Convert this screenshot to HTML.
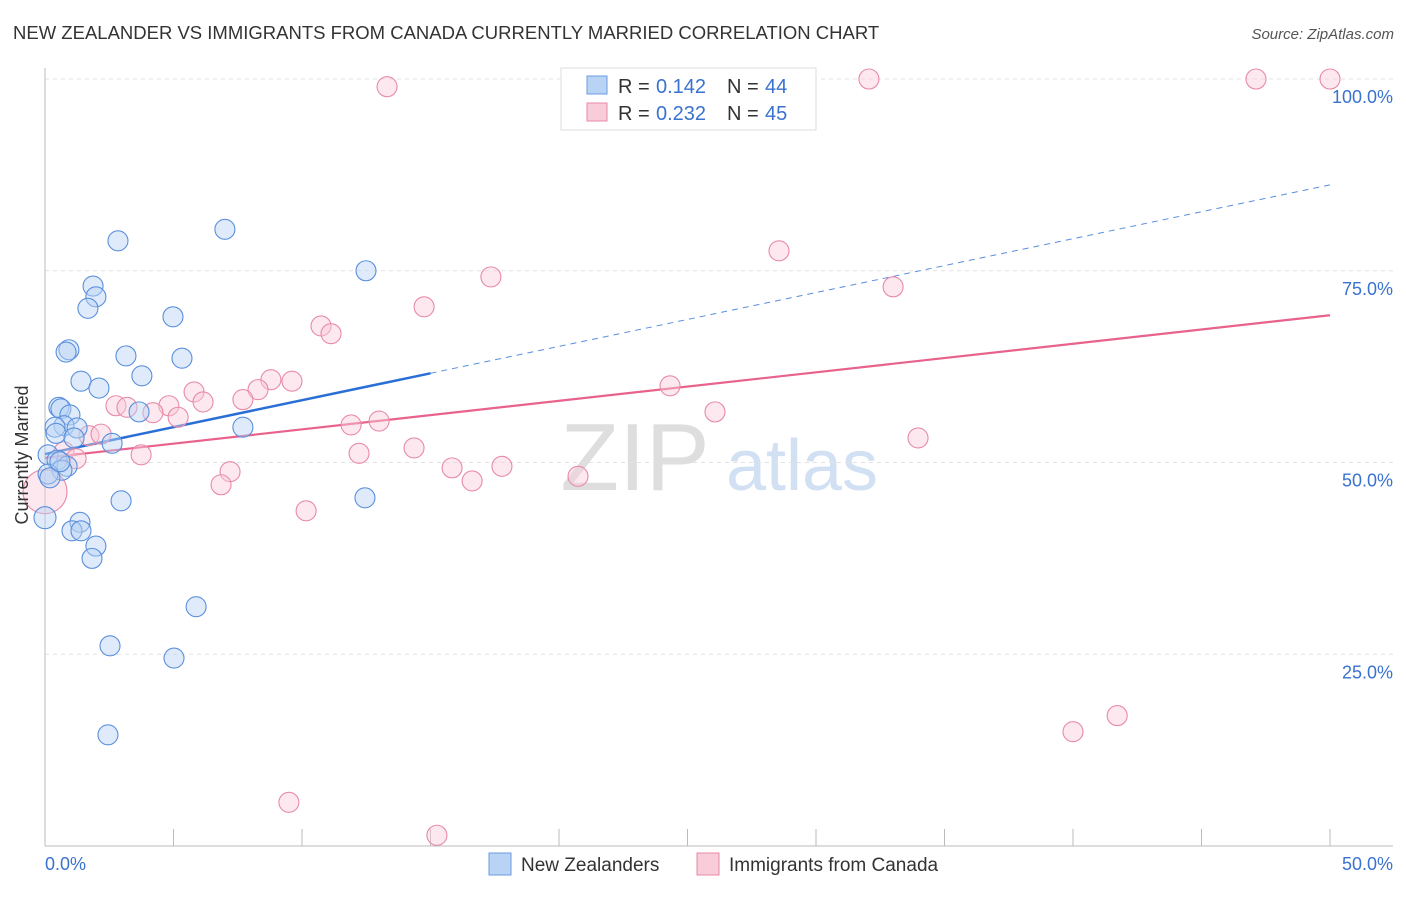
<!DOCTYPE html>
<html><head><meta charset="utf-8"><style>
body{margin:0;background:#fff;font-family:"Liberation Sans",sans-serif;}
svg text{font-family:"Liberation Sans",sans-serif;}
</style></head><body>
<svg id="chart" width="1406" height="892" viewBox="0 0 1406 892" xmlns="http://www.w3.org/2000/svg">
<text x="13" y="39" font-size="18.5" fill="#333">NEW ZEALANDER VS IMMIGRANTS FROM CANADA CURRENTLY MARRIED CORRELATION CHART</text>
<text x="1394" y="39" font-size="15" fill="#555" text-anchor="end" font-style="italic">Source: ZipAtlas.com</text>
<g>
<text x="635" y="490" font-size="96" fill="#dedede" text-anchor="middle" font-family="Liberation Serif,serif">ZIP</text>
<text x="802" y="490" font-size="72" fill="#d2e0f3" text-anchor="middle">atlas</text>
</g>
<g id="grid"></g><g id="axes"></g><g id="trends"></g><g id="pts"></g>
<text transform="translate(28,455) rotate(-90)" font-size="18" fill="#333" text-anchor="middle">Currently Married</text>
<g>
<rect x="561" y="68" width="255" height="62" fill="#fff" stroke="#ddd"/>
<rect x="587" y="76" width="20" height="18" fill="#b9d3f5" stroke="#6a9be0"/>
<text x="618" y="93" font-size="20" fill="#333">R =</text><text x="656" y="93" font-size="20" fill="#3a72d0">0.142</text>
<text x="727" y="93" font-size="20" fill="#333">N =</text><text x="765" y="93" font-size="20" fill="#3a72d0">44</text>
<rect x="587" y="103" width="20" height="18" fill="#f9ccd9" stroke="#e88aa6"/>
<text x="618" y="120" font-size="20" fill="#333">R =</text><text x="656" y="120" font-size="20" fill="#3a72d0">0.232</text>
<text x="727" y="120" font-size="20" fill="#333">N =</text><text x="765" y="120" font-size="20" fill="#3a72d0">45</text>
</g>
<g>
<rect x="489" y="853" width="22" height="22" fill="#b9d3f5" stroke="#6a9be0"/>
<text x="521" y="871" font-size="19" fill="#333">New Zealanders</text>
<rect x="697" y="853" width="22" height="22" fill="#f9ccd9" stroke="#e88aa6"/>
<text x="729" y="871" font-size="19" fill="#333">Immigrants from Canada</text>
</g>
</svg>
<script>
const yTicks=[25,50,75,100];
const yTickLabels=["25.0%","50.0%","75.0%","100.0%"];
const blueX=[2.84,7.00,12.49,1.87,1.98,1.67,4.98,0.93,0.82,3.15,5.33,3.77,1.40,2.10,0.54,0.62,3.66,0.97,0.74,0.39,1.25,0.43,1.13,2.61,7.70,0.12,0.47,0.86,0.66,0.12,2.96,12.45,0,1.36,1.05,1.40,1.98,1.83,5.88,2.53,5.02,2.45,0.19,0.58];
const blueY=[78.9,80.4,75.0,73.0,71.6,70.1,69.0,64.7,64.4,63.9,63.6,61.3,60.6,59.7,57.2,57.0,56.6,56.2,54.8,54.6,54.5,53.8,53.2,52.5,54.6,51.0,50.3,49.5,49.0,48.5,45.0,45.4,42.8,42.2,41.1,41.1,39.1,37.5,31.2,26.1,24.5,14.5,48.0,50.1];
const pinkX=[13.31,32.06,47.12,50,28.56,17.35,33.0,14.75,10.74,11.13,8.79,9.61,24.32,5.80,8.29,7.70,6.15,2.76,3.19,4.82,4.20,5.18,26.07,11.91,13.0,1.71,2.18,33.97,3.74,12.22,14.36,0.74,1.21,15.84,17.78,16.62,20.74,7.20,6.85,10.16,0,40.0,41.72,9.49,15.25];
const pinkY=[99.0,100,100,100,77.6,74.2,72.9,70.3,67.8,66.8,60.8,60.6,60.0,59.2,59.5,58.2,57.9,57.4,57.2,57.4,56.5,55.9,56.6,54.9,55.4,53.5,53.7,53.2,51.0,51.2,51.9,51.4,50.5,49.3,49.5,47.6,48.2,48.8,47.1,43.7,46.2,14.9,17.0,5.7,1.4];
const blueTrend=[51.1,86.2];
const pinkTrend=[50.6,69.2];
const blueSolidEnd=15;
const NS="http://www.w3.org/2000/svg";
const sx=v=>45+v/50*1285;
const sy=v=>846-v/100*767;
function mk(tag,attrs,parent){const e=document.createElementNS(NS,tag);for(const k in attrs)e.setAttribute(k,attrs[k]);parent.appendChild(e);return e;}
const grid=document.getElementById('grid'),axes=document.getElementById('axes'),tr=document.getElementById('trends'),pts=document.getElementById('pts');
yTicks.forEach((t,i)=>{
 const l=mk('line',{x1:45,x2:1393,y1:sy(t),y2:sy(t),stroke:'#e2e2e2','stroke-dasharray':'4,4'},grid);
 
 
 const tx=mk('text',{x:1393,y:sy(t)+24,'font-size':18,fill:'#3a72d0','text-anchor':'end'},axes);
 tx.textContent=yTickLabels[i];
 
 
});
let a=mk('line',{x1:45,x2:45,y1:68,y2:846,stroke:'#bbb'},axes);


a=mk('line',{x1:45,x2:1393,y1:846,y2:846,stroke:'#bbb'},axes);


for(let i=0;i<=10;i++){const x=sx(i*5);const t=mk('line',{x1:x,x2:x,y1:829,y2:846,stroke:'#bbb'},axes);
 
 }
[[0,'0.0%','start',45],[50,'50.0%','end',1393]].forEach(d=>{const t=mk('text',{x:d[3],y:870,'font-size':18,fill:'#3a72d0','text-anchor':d[2]},axes);t.textContent=d[1];
 
 });
function drawPts(xs,ys,fill,stroke,name){xs.forEach((x,i)=>{const big=(x===0&&name==='pink-point'&&ys[i]<47)?22:(x===0?11:10);
 const c=mk('circle',{cx:sx(x),cy:sy(ys[i]),r:big,fill:fill,'fill-opacity':0.45,stroke:stroke,'stroke-width':1.1},pts);
 
 });}
drawPts(pinkX,pinkY,'#f9ccd9','#e88aa6','pink-point');
drawPts(blueX,blueY,'#b9d3f5','#5a8fdc','blue-point');
const bAt=x=>blueTrend[0]+(blueTrend[1]-blueTrend[0])*x/50;
let l=mk('line',{x1:sx(0),y1:sy(bAt(0)),x2:sx(blueSolidEnd),y2:sy(bAt(blueSolidEnd)),stroke:'#2a6fd6','stroke-width':2.5},tr);


l=mk('line',{x1:sx(blueSolidEnd),y1:sy(bAt(blueSolidEnd)),x2:sx(50),y2:sy(bAt(50)),stroke:'#5a8fdc','stroke-width':1,'stroke-dasharray':'6,5'},tr);


l=mk('line',{x1:sx(0),y1:sy(pinkTrend[0]),x2:sx(50),y2:sy(pinkTrend[1]),stroke:'#e8628c','stroke-width':2.2},tr);


</script>
</body></html>
